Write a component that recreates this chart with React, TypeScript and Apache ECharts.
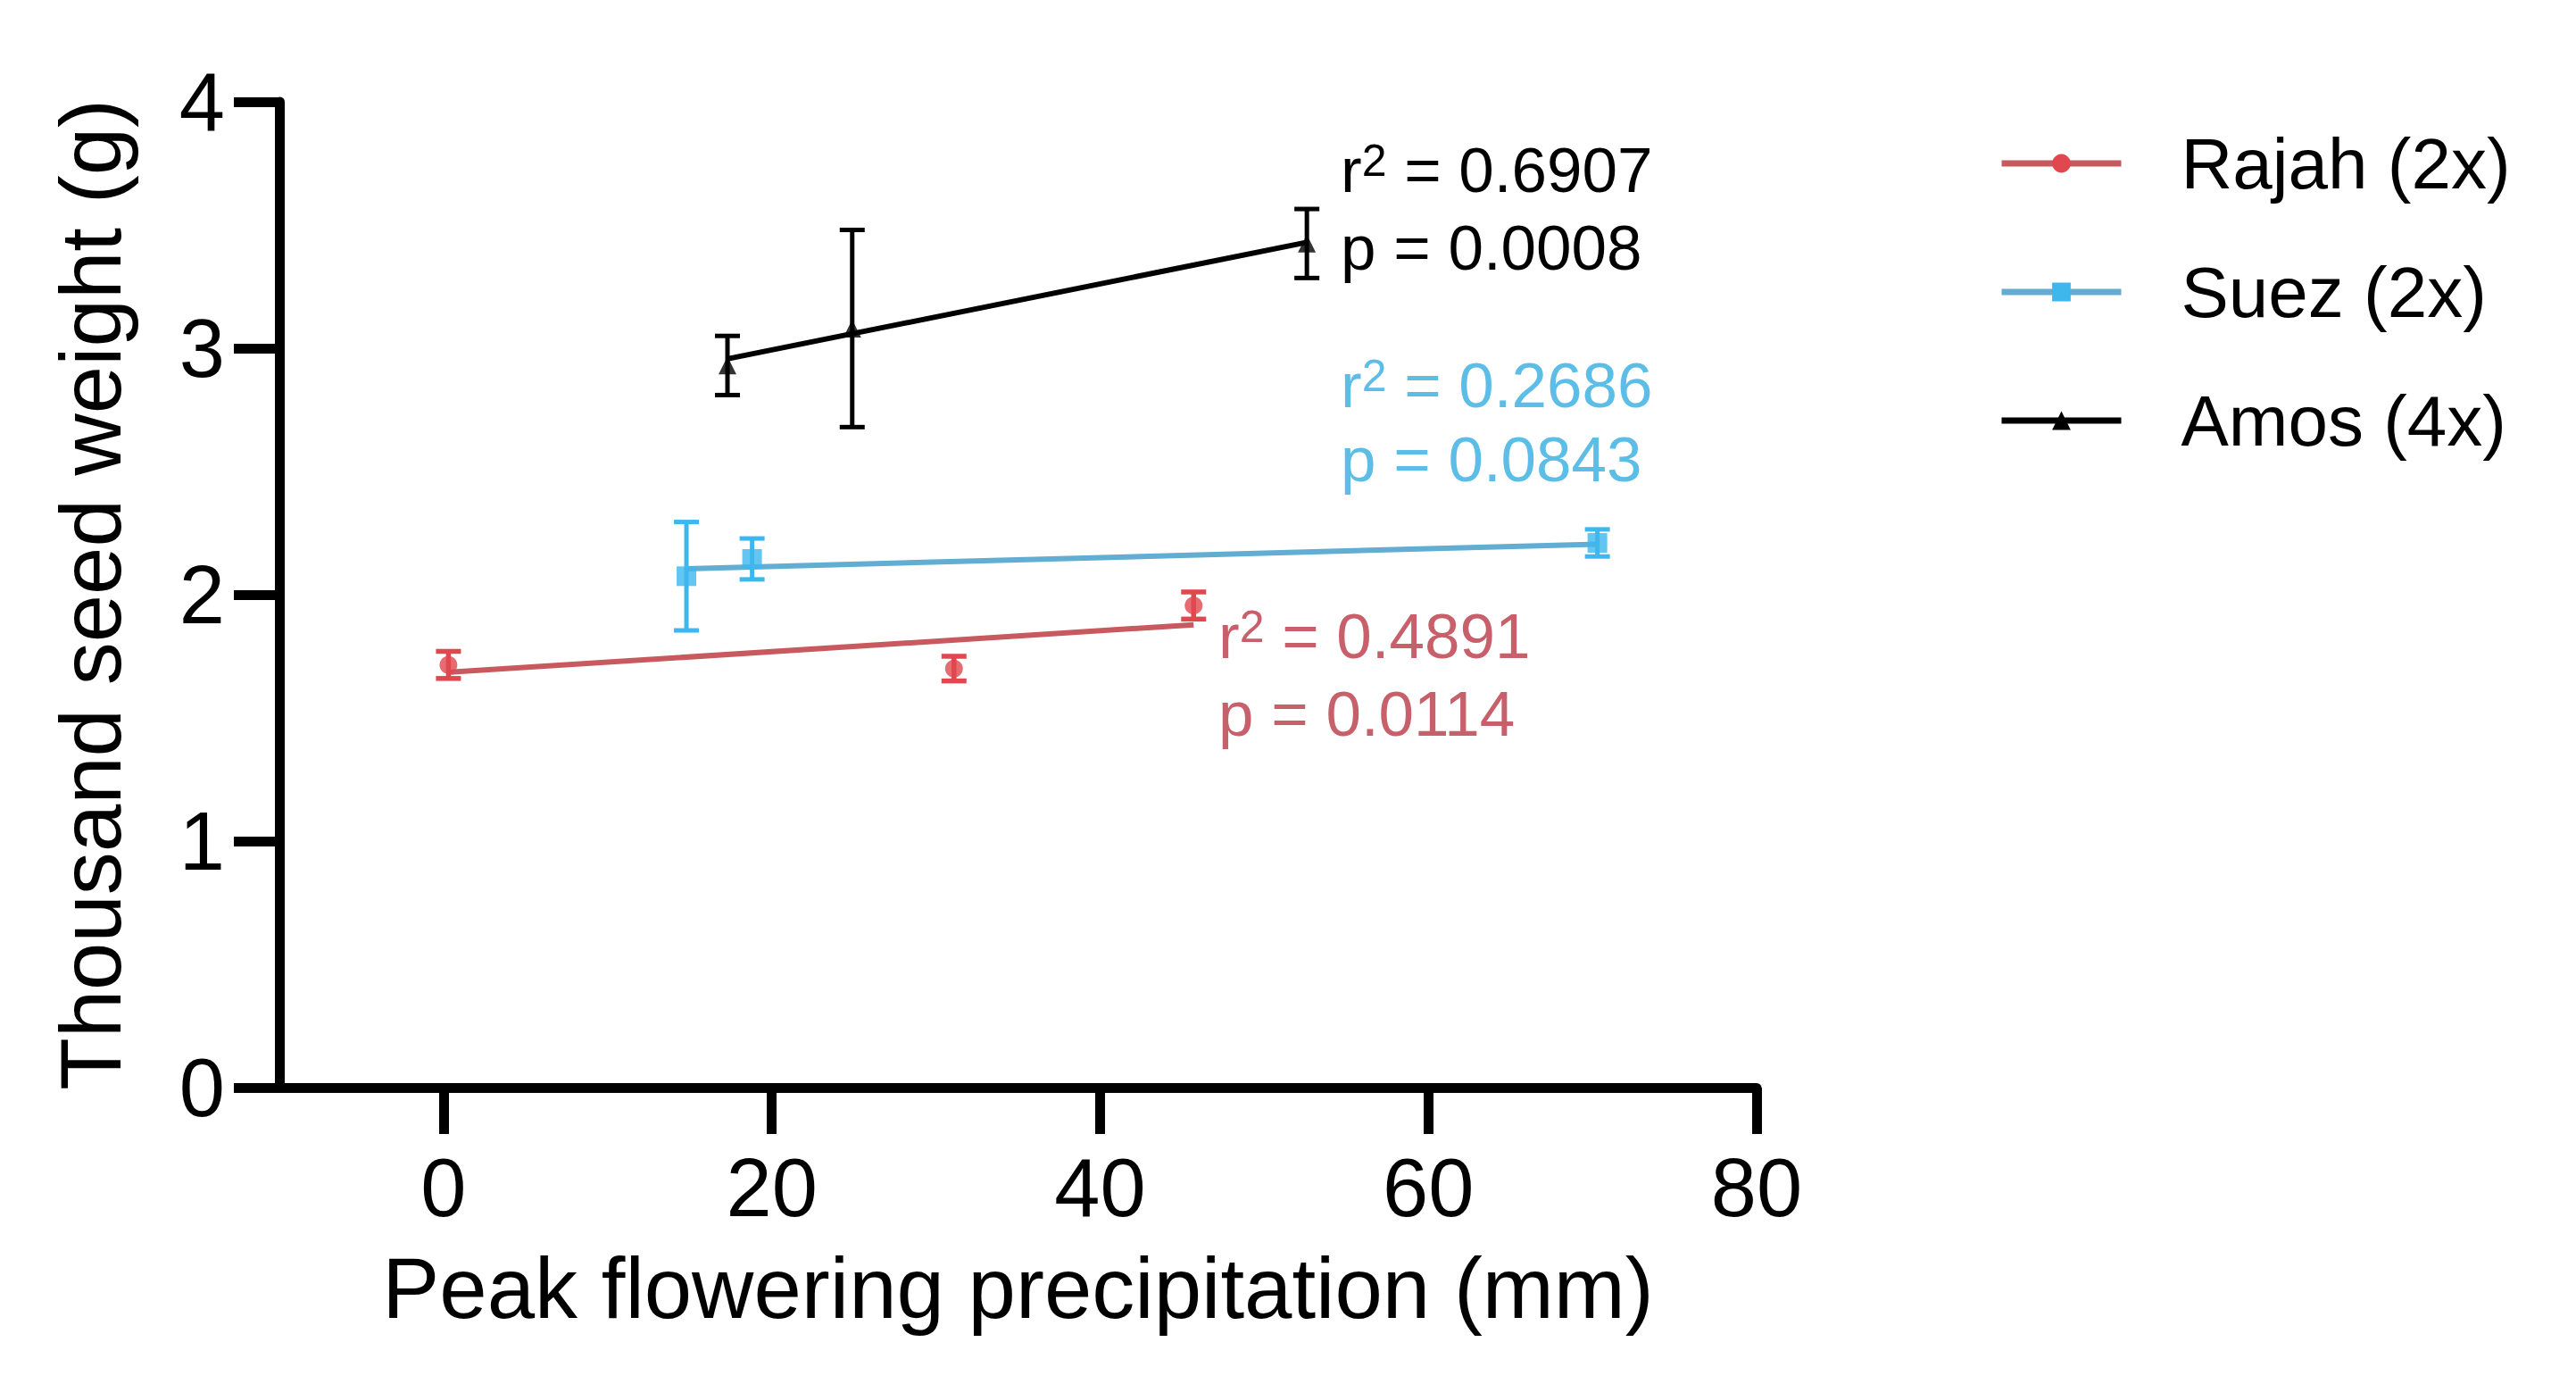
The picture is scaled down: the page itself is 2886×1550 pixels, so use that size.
import React, { useEffect, useRef } from "react";
import * as echarts from "echarts";

// ---------- data ----------
const cultivars = ["Rajah (2x)", "Suez (2x)", "Amos (4x)"];

// mean points (x = peak flowering precipitation mm, y = thousand seed weight g)
const rajahX = [0.3, 31.1, 45.7];
const rajahY = [1.715, 1.7, 1.956];
const rajahErr = [0.055, 0.05, 0.055];

const suezX = [14.8, 18.8, 70.3];
const suezY = [2.075, 2.145, 2.21];
const suezErr = [0.22, 0.083, 0.055];

const amosX = [17.3, 24.9, 52.6];
const amosY = [2.93, 3.08, 3.425];
const amosErr = [0.12, 0.4, 0.14];

// regression line end points [x, y]
const rajahFit = [[0.3, 1.685], [45.7, 1.878]];
const suezFit = [[14.8, 2.105], [70.3, 2.205]];
const amosFit = [[17.3, 2.957], [52.6, 3.43]];

const statsLabels = [
  { r2: "0.6907", p: "0.0008" },
  { r2: "0.2686", p: "0.0843" },
  { r2: "0.4891", p: "0.0114" },
];

const xTicks = [0, 20, 40, 60, 80];

const FONT = "'Liberation Sans', Arial, Helvetica, sans-serif";
const RED_LINE = "#c85a5f";
const RED_MARK = "#e0474f";
const RED_TEXT = "#c7606a";
const BLUE_LINE = "#62aed2";
const BLUE_MARK = "#3db7ee";
const BLUE_TEXT = "#5cbde7";
const BLACK = "#000000";

function pts(xs: number[], ys: number[]) {
  return xs.map((x, i) => [x, ys[i]]);
}
function errs(xs: number[], ys: number[], es: number[]) {
  return xs.map((x, i) => [x, ys[i] - es[i], ys[i] + es[i]]);
}

function errorSeries(name: string, data: number[][], color: string, width: number) {
  return {
    name,
    type: "custom",
    z: 3,
    data,
    renderItem: (_params: any, api: any) => {
      const x = api.value(0);
      const lo = api.coord([x, api.value(1)]);
      const hi = api.coord([x, api.value(2)]);
      const hw = 14;
      const st = { stroke: color, lineWidth: width };
      return {
        type: "group",
        children: [
          { type: "line", shape: { x1: hi[0], y1: hi[1], x2: lo[0], y2: lo[1] }, style: st },
          { type: "line", shape: { x1: hi[0] - hw, y1: hi[1], x2: hi[0] + hw, y2: hi[1] }, style: st },
          { type: "line", shape: { x1: lo[0] - hw, y1: lo[1], x2: lo[0] + hw, y2: lo[1] }, style: st },
        ],
      };
    },
  };
}

function statText(x: number, y: number, label: string, prefix: string, color: string) {
  return {
    type: "text",
    x,
    y,
    style: {
      text: prefix === "r" ? `{m|r}{s|2}{m| = ${label}}` : `{m|p = ${label}}`,
      verticalAlign: "middle",
      align: "left",
      fill: color,
      fontSize: 71,
      fontFamily: FONT,
      rich: {
        m: { fontSize: 71, fontFamily: FONT, fill: color, lineHeight: 71 },
        s: { fontSize: 50, fontFamily: FONT, fill: color, verticalAlign: "top" },
      },
    },
  };
}

export default function App() {
  const ref = useRef<HTMLDivElement>(null);
  useEffect(() => {
    if (!ref.current) return;
    const chart = echarts.init(ref.current, null, { renderer: "svg" });
    const option: any = {
      animation: false,
      backgroundColor: "#ffffff",
      textStyle: { fontFamily: FONT },
      grid: { left: 313, right: 918, top: 114, bottom: 332 },
      xAxis: {
        type: "value",
        min: -10,
        max: 80,
        name: "Peak flowering precipitation (mm)",
        nameLocation: "middle",
        nameGap: 176,
        nameTextStyle: { fontSize: 96, color: BLACK, fontFamily: FONT },
        axisLine: { onZero: false, lineStyle: { color: BLACK, width: 11 } },
        axisTick: { show: true, length: 52, customValues: xTicks, lineStyle: { color: BLACK, width: 11 } },
        axisLabel: { customValues: xTicks, fontSize: 92, margin: 66, color: BLACK, fontFamily: FONT },
        splitLine: { show: false },
      },
      yAxis: {
        type: "value",
        min: 0,
        max: 4,
        interval: 1,
        name: "Thousand seed weight (g)",
        nameLocation: "middle",
        nameGap: 164,
        nameTextStyle: { fontSize: 96, color: BLACK, fontFamily: FONT },
        axisLine: { show: true, onZero: false, lineStyle: { color: BLACK, width: 11 } },
        axisTick: { show: true, length: 51, lineStyle: { color: BLACK, width: 11 } },
        axisLabel: { fontSize: 92, margin: 61, color: BLACK, fontFamily: FONT },
        splitLine: { show: false },
      },
      legend: {
        data: cultivars,
        orient: "vertical",
        left: 2234,
        top: 138,
        itemWidth: 134,
        itemHeight: 26,
        itemGap: 64,
        lineStyle: { width: 7 },
        textStyle: { fontSize: 80, lineHeight: 80, color: BLACK, fontFamily: FONT, padding: [0, 0, 0, 62] },
        selectedMode: false,
      },
      series: [
        {
          name: cultivars[0],
          type: "line",
          data: rajahFit,
          symbol: "circle",
          showSymbol: false,
          z: 2,
          lineStyle: { color: RED_LINE, width: 6 },
          itemStyle: { color: RED_MARK },
        },
        {
          name: cultivars[1],
          type: "line",
          data: suezFit,
          symbol: "rect",
          showSymbol: false,
          z: 2,
          lineStyle: { color: BLUE_LINE, width: 6 },
          itemStyle: { color: BLUE_MARK },
        },
        {
          name: cultivars[2],
          type: "line",
          data: amosFit,
          symbol: "triangle",
          showSymbol: false,
          z: 2,
          lineStyle: { color: BLACK, width: 6 },
          itemStyle: { color: BLACK },
        },
        errorSeries("Rajah error", errs(rajahX, rajahY, rajahErr), RED_MARK, 5.5),
        errorSeries("Suez error", errs(suezX, suezY, suezErr), BLUE_MARK, 5),
        errorSeries("Amos error", errs(amosX, amosY, amosErr), BLACK, 5),
        {
          name: "Rajah points",
          type: "scatter",
          symbol: "circle",
          symbolSize: 20,
          z: 4,
          data: pts(rajahX, rajahY),
          itemStyle: { color: RED_MARK },
        },
        {
          name: "Suez points",
          type: "scatter",
          symbol: "rect",
          symbolSize: 22,
          z: 4,
          data: pts(suezX, suezY),
          itemStyle: { color: BLUE_MARK },
        },
        {
          name: "Amos points",
          type: "scatter",
          symbol: "triangle",
          symbolSize: 20,
          z: 4,
          data: pts(amosX, amosY),
          itemStyle: { color: BLACK },
        },
      ],
      graphic: [
        statText(1502, 190, statsLabels[0].r2, "r", BLACK),
        statText(1502, 277, statsLabels[0].p, "p", BLACK),
        statText(1502, 431, statsLabels[1].r2, "r", BLUE_TEXT),
        statText(1502, 514, statsLabels[1].p, "p", BLUE_TEXT),
        statText(1365, 712, statsLabels[2].r2, "r", RED_TEXT),
        statText(1365, 799, statsLabels[2].p, "p", RED_TEXT),
      ],
    };
    chart.setOption(option);
    return () => chart.dispose();
  }, []);
  return (
    <div
      ref={ref}
      style={{ position: "absolute", left: 0, top: 0, width: "2886px", height: "1550px", background: "#fff" }}
    />
  );
}
